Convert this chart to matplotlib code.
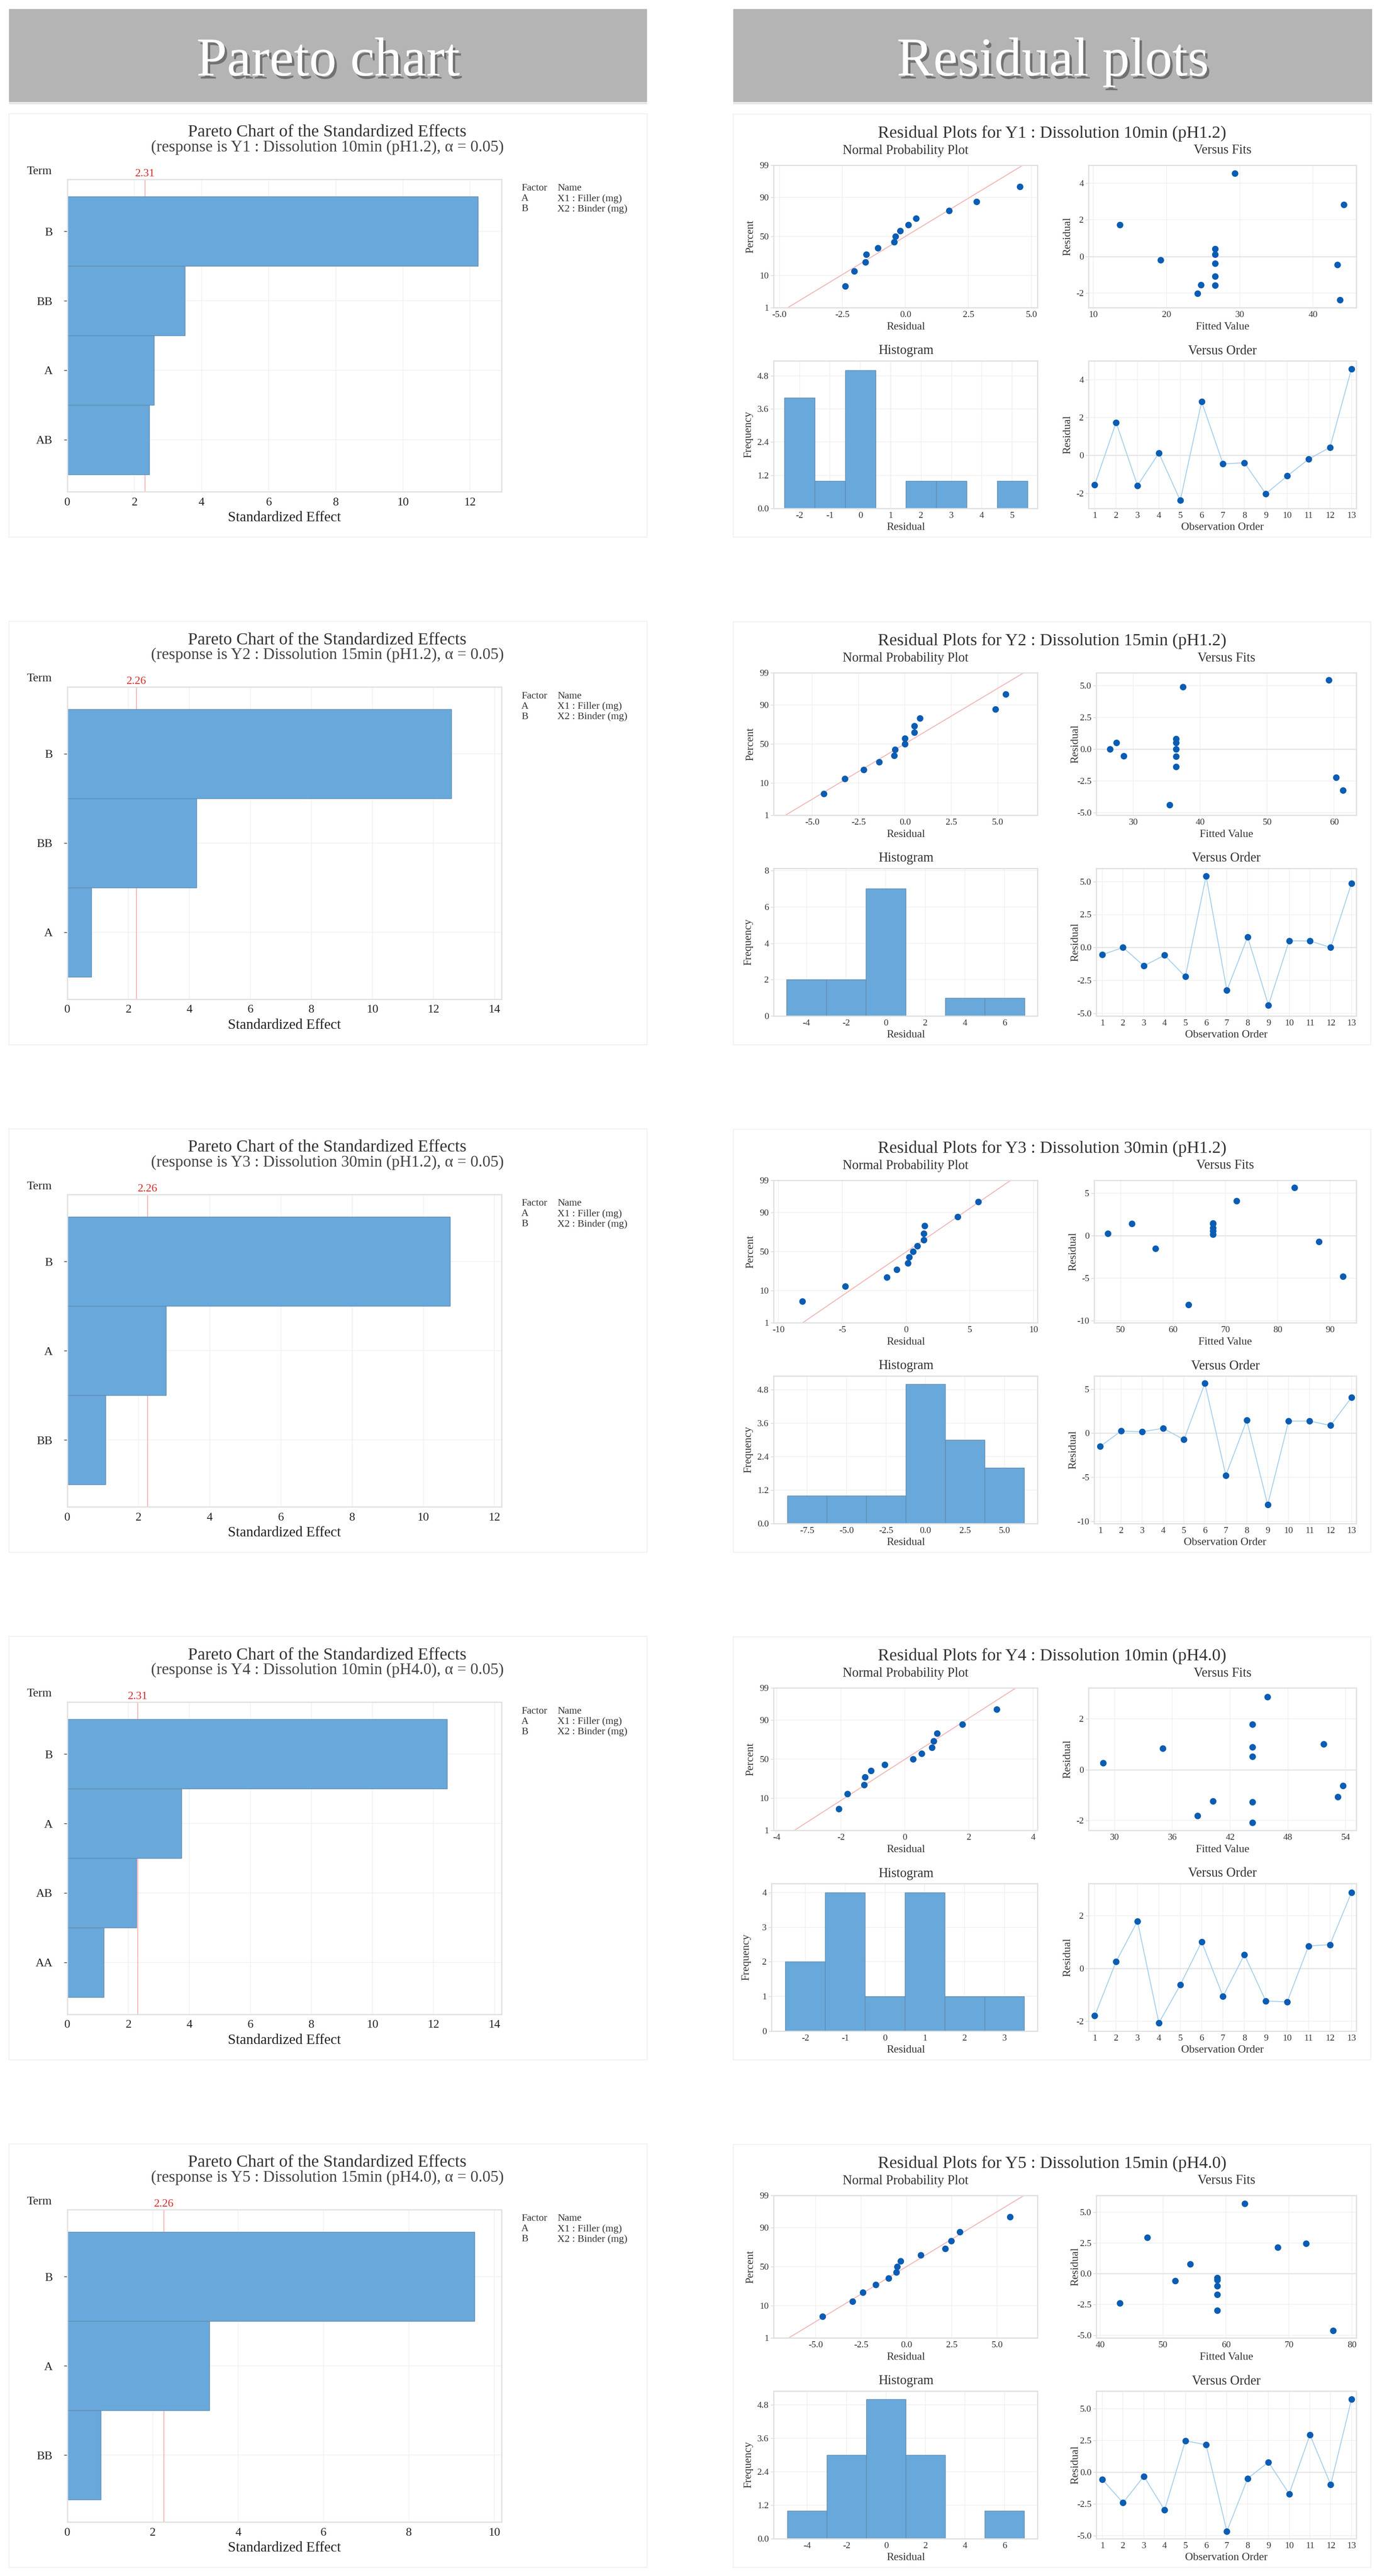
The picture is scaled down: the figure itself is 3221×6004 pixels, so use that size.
import matplotlib
matplotlib.use("Agg")
import matplotlib.pyplot as plt
import matplotlib.patheffects as pe
import matplotlib.transforms as mtransforms
from matplotlib.patches import Rectangle
from matplotlib.ticker import FixedLocator, FormatStrFormatter
from statistics import NormalDist
import numpy as np

# ---------------------------------------------------------------- data
response_names = ["Y1 : Dissolution 10min (pH1.2)",
                  "Y2 : Dissolution 15min (pH1.2)",
                  "Y3 : Dissolution 30min (pH1.2)",
                  "Y4 : Dissolution 10min (pH4.0)",
                  "Y5 : Dissolution 15min (pH4.0)"]

pareto_terms_y1 = ["B", "BB", "A", "AB"]
pareto_effects_y1 = [12.24, 3.50, 2.58, 2.44]
pareto_terms_y2 = ["B", "BB", "A"]
pareto_effects_y2 = [12.59, 4.23, 0.79]
pareto_terms_y3 = ["B", "A", "BB"]
pareto_effects_y3 = [10.75, 2.77, 1.07]
pareto_terms_y4 = ["B", "A", "AB", "AA"]
pareto_effects_y4 = [12.44, 3.74, 2.27, 1.20]
pareto_terms_y5 = ["B", "A", "BB"]
pareto_effects_y5 = [9.54, 3.33, 0.78]
critical_effects = [2.31, 2.26, 2.26, 2.31, 2.26]

factor_codes = ["A", "B"]
factor_names = ["X1 : Filler (mg)", "X2 : Binder (mg)"]

observation_order = [1, 2, 3, 4, 5, 6, 7, 8, 9, 10, 11, 12, 13]
residuals_y1 = [-1.55, 1.74, -1.59, 0.12, -2.38, 2.83, -0.45, -0.39, -2.03, -1.09, -0.20, 0.42, 4.55]
fits_y1 = [24.7, 13.6, 26.6, 26.6, 43.7, 44.2, 43.3, 26.6, 24.2, 26.6, 19.2, 26.6, 29.3]
residuals_y2 = [-0.55, 0.00, -1.40, -0.59, -2.22, 5.42, -3.26, 0.80, -4.38, 0.51, 0.49, 0.00, 4.87]
fits_y2 = [28.6, 26.5, 36.4, 36.4, 60.3, 59.2, 61.3, 36.4, 35.4, 36.4, 27.5, 36.4, 37.4]
residuals_y3 = [-1.50, 0.25, 0.16, 0.56, -0.72, 5.66, -4.78, 1.47, -8.13, 1.38, 1.38, 0.88, 4.06]
fits_y3 = [56.7, 47.6, 67.6, 67.6, 87.8, 83.2, 92.4, 67.6, 63.0, 67.6, 52.2, 67.6, 72.1]
residuals_y4 = [-1.80, 0.26, 1.79, -2.07, -0.63, 1.01, -1.06, 0.52, -1.24, -1.27, 0.85, 0.90, 2.87]
fits_y4 = [38.6, 28.8, 44.3, 44.3, 53.7, 51.7, 53.2, 44.3, 40.2, 44.3, 35.0, 44.3, 45.9]
residuals_y5 = [-0.57, -2.40, -0.32, -2.97, 2.47, 2.15, -4.64, -0.50, 0.79, -1.70, 2.94, -0.98, 5.72]
fits_y5 = [51.9, 43.1, 58.6, 58.6, 72.7, 68.2, 77.0, 58.6, 54.3, 58.6, 47.5, 58.6, 63.0]

npp_percent_ticks = [1, 10, 50, 90, 99]

pareto_terms = [pareto_terms_y1, pareto_terms_y2, pareto_terms_y3, pareto_terms_y4, pareto_terms_y5]
pareto_effects = [pareto_effects_y1, pareto_effects_y2, pareto_effects_y3, pareto_effects_y4, pareto_effects_y5]
residuals = [residuals_y1, residuals_y2, residuals_y3, residuals_y4, residuals_y5]
fits = [fits_y1, fits_y2, fits_y3, fits_y4, fits_y5]

# ---------------------------------------------------------------- axis settings
pareto_xmax = [12.94, 14.23, 12.2, 14.23, 10.17]
npp_xlim = [(-5.23, 5.24), (-7.09, 7.14), (-10.38, 10.3), (-4.1, 4.14), (-7.33, 7.23)]
npp_xticks = [[-5, -2.5, 0, 2.5, 5], [-5, -2.5, 0, 2.5, 5], [-10, -5, 0, 5, 10],
              [-4, -2, 0, 2, 4], [-5, -2.5, 0, 2.5, 5]]
npp_xfmt = ['%.1f', '%.1f', '%d', '%d', '%.1f']
vf_xlim = [(9.34, 45.9), (24.47, 63.3), (44.96, 94.96), (27.3, 55.1), (39.37, 80.7)]
vf_xticks = [[10, 20, 30, 40], [30, 40, 50, 60], [50, 60, 70, 80, 90],
             [30, 36, 42, 48, 54], [40, 50, 60, 70, 80]]
res_ylim = [(-2.8, 4.99), (-5.2, 6.0), (-10.25, 6.5), (-2.38, 3.22), (-5.22, 6.37)]
res_yticks = [[-2, 0, 2, 4], [-5, -2.5, 0, 2.5, 5], [-10, -5, 0, 5], [-2, 0, 2],
              [-5, -2.5, 0, 2.5, 5]]
res_yfmt = ['%d', '%.1f', '%d', '%d', '%.1f']
hist_bins = [(-2.5, 5.5, 1.0), (-5.0, 7.0, 2.0), (-8.75, 6.25, 2.5), (-2.5, 3.5, 1.0), (-5.0, 7.0, 2.0)]
hist_xlim = [(-2.855, 5.83), (-5.66, 7.66), (-9.62, 7.09), (-2.85, 3.83), (-5.70, 7.67)]
hist_xticks = [[-2, -1, 0, 1, 2, 3, 4, 5], [-4, -2, 0, 2, 4, 6], [-7.5, -5, -2.5, 0, 2.5, 5],
               [-2, -1, 0, 1, 2, 3], [-4, -2, 0, 2, 4, 6]]
hist_xfmt = ['%d', '%d', '%.1f', '%d', '%d']
hist_ytop = [5.34, 8.12, 5.29, 4.26, 5.29]
hist_yticks = [[0, 1.2, 2.4, 3.6, 4.8], [0, 2, 4, 6, 8], [0, 1.2, 2.4, 3.6, 4.8],
               [0, 1, 2, 3, 4], [0, 1.2, 2.4, 3.6, 4.8]]
hist_yfmt = ['%.1f', '%d', '%.1f', '%d', '%.1f']
vo_xlim = (0.71, 13.23)
vf_left = [2537, 2555, 2550, 2537, 2555]
hist_left = [1803, 1803, 1803, 1798, 1803]

# ---------------------------------------------------------------- style
W, H, DPI = 3221, 6004, 100
ROW = 1183
plt.rcParams['font.family'] = ['Liberation Serif', 'DejaVu Serif']
plt.rcParams['axes.unicode_minus'] = False

BAR = '#68a8da'
BAR_EDGE = '#6189ac'
DOT = '#0a5db3'
LINE = '#a9d0ec'
REDLINE = '#f3b6b6'
GRID = '#f1f1f1'
SPINE = '#e0e0e0'
TXT = '#333333'

fig = plt.figure(figsize=(W / DPI, H / DPI), dpi=DPI)
fig.patch.set_facecolor('white')


def ax_at(x0, y0, x1, y1):
    return fig.add_axes([x0 / W, 1 - y1 / H, (x1 - x0) / W, (y1 - y0) / H])


def ftext(x, y, s, **kw):
    return fig.text(x / W, 1 - y / H, s, **kw)


def frect(x0, y0, x1, y1, **kw):
    fig.patches.append(Rectangle((x0 / W, 1 - y1 / H), (x1 - x0) / W, (y1 - y0) / H,
                                 transform=fig.transFigure, **kw))


def style_axes(ax, labelsize=15.5):
    for s in ax.spines.values():
        s.set_color(SPINE)
        s.set_linewidth(2)
    ax.grid(True, color=GRID, lw=1.3, zorder=0)
    ax.set_axisbelow(True)
    ax.tick_params(axis='both', labelsize=labelsize, colors=TXT, color='#cfcfcf', width=1)
    ax.tick_params(axis='x', length=0, pad=6)
    ax.tick_params(axis='y', length=5, pad=3)


# ---------------------------------------------------------------- headers
for x0, x1, label in [(21, 1508, "Pareto chart"), (1709, 3198, "Residual plots")]:
    frect(x0, 239, x1, 243, facecolor='#e4e4e4', edgecolor='none')
    frect(x0, 21, x1, 238, facecolor='#b4b4b4', edgecolor='none')
    ftext((x0 + x1) / 2, 176, label, ha='center', va='baseline', fontsize=92, color='white',
          path_effects=[pe.SimplePatchShadow(offset=(4, -5), shadow_rgbFace='#3a3a3a', alpha=0.55),
                        pe.Normal()])

nd = NormalDist()

for r in range(5):
    oy = r * ROW

    # ============================ Pareto chart
    frect(21, 265 + oy, 1508, 1252 + oy, facecolor='none', edgecolor='#f0f0f0', lw=1.5)
    ftext(763, 309 + oy, "Pareto Chart of the Standardized Effects", ha='center', va='center',
          fontsize=29, color=TXT)
    ftext(763, 344 + oy, "(response is " + response_names[r] + ", \u03b1 = 0.05)", ha='center',
          va='center', fontsize=27, color='#444444')
    ftext(92, 399 + oy, "Term", ha='center', va='center', fontsize=20, color='#222222')

    ax = ax_at(157, 418 + oy, 1169, 1146 + oy)
    terms = pareto_terms[r]
    eff = pareto_effects[r]
    pos = np.arange(len(terms))
    ax.barh(pos, eff, height=1.0, color=BAR, edgecolor=BAR_EDGE, linewidth=1.0, zorder=2)
    ax.axvline(critical_effects[r], color=REDLINE, lw=1.6, zorder=1)
    ax.set_ylim(len(terms) - 1 + 0.75, -0.75)
    ax.set_xlim(0, pareto_xmax[r])
    ax.set_yticks(pos)
    ax.set_yticklabels(terms)
    ax.set_xticks(np.arange(0, pareto_xmax[r], 2))
    style_axes(ax, labelsize=20)
    ax.tick_params(axis='y', length=6, pad=19, colors='#222222')
    ax.tick_params(axis='x', pad=9, colors='#222222')
    trans = mtransforms.blended_transform_factory(ax.transData, ax.transAxes)
    ax.text(critical_effects[r], 1.003, "%.2f" % critical_effects[r], transform=trans,
            ha='center', va='bottom', fontsize=19, color='#d8282a')
    ftext(663, 1207 + oy, "Standardized Effect", ha='center', va='center', fontsize=24,
          color='#222222')
    # factor legend
    ftext(1215, 439 + oy, "Factor", ha='left', va='center', fontsize=17, color=TXT)
    ftext(1299, 439 + oy, "Name", ha='left', va='center', fontsize=17, color=TXT)
    for i, (c, nm) in enumerate(zip(factor_codes, factor_names)):
        ftext(1215, 463 + oy + 24 * i, c, ha='left', va='center', fontsize=17, color=TXT)
        ftext(1299, 463 + oy + 24 * i, nm, ha='left', va='center', fontsize=17, color=TXT)

    # ============================ Residual plots
    res = np.array(residuals[r])
    fit = np.array(fits[r])
    n = len(res)
    frect(1709, 266 + oy, 3195, 1252 + oy, facecolor='none', edgecolor='#f0f0f0', lw=1.5)
    ftext(2452, 311 + oy, "Residual Plots for " + response_names[r], ha='center', va='center',
          fontsize=29, color=TXT)

    # --- normal probability plot
    ax = ax_at(1803, 385 + oy, 2418, 717 + oy)
    srt = np.sort(res)
    zpts = [nd.inv_cdf((i + 1 - 0.3) / (n + 0.4)) for i in range(n)]
    zlo, zhi = nd.inv_cdf(0.01), nd.inv_cdf(0.99)
    mu, sd = res.mean(), res.std(ddof=1)
    ax.plot([mu + sd * zlo, mu + sd * zhi], [zlo, zhi], color=REDLINE, lw=1.6, zorder=2)
    ax.plot(srt, zpts, 'o', ms=10, color=DOT, zorder=3)
    ax.set_ylim(zlo, zhi)
    ax.set_yticks([nd.inv_cdf(p / 100) for p in npp_percent_ticks])
    ax.set_yticklabels([str(p) for p in npp_percent_ticks])
    ax.set_xlim(*npp_xlim[r])
    ax.xaxis.set_major_locator(FixedLocator(npp_xticks[r]))
    ax.xaxis.set_major_formatter(FormatStrFormatter(npp_xfmt[r]))
    style_axes(ax)
    ftext(2111, 351 + oy, "Normal Probability Plot", ha='center', va='center', fontsize=22, color=TXT)
    ftext(2111, 762 + oy, "Residual", ha='center', va='center', fontsize=18.5, color=TXT)
    ftext(1749, 551 + oy, "Percent", ha='center', va='center', rotation=90, fontsize=18.5, color=TXT)

    # --- versus fits
    xl = vf_left[r]
    ax = ax_at(xl, 385 + oy, 3161, 717 + oy)
    ax.axhline(0, color='#e4e4e4', lw=1.8, zorder=1)
    ax.plot(fit, res, 'o', ms=10, color=DOT, zorder=3)
    ax.set_xlim(*vf_xlim[r])
    ax.set_ylim(*res_ylim[r])
    ax.xaxis.set_major_locator(FixedLocator(vf_xticks[r]))
    ax.yaxis.set_major_locator(FixedLocator(res_yticks[r]))
    ax.yaxis.set_major_formatter(FormatStrFormatter(res_yfmt[r]))
    style_axes(ax)
    cx = (xl + 3161) / 2
    ftext(cx, 351 + oy, "Versus Fits", ha='center', va='center', fontsize=22, color=TXT)
    ftext(cx, 762 + oy, "Fitted Value", ha='center', va='center', fontsize=18.5, color=TXT)
    ftext(xl - 49, 551 + oy, "Residual", ha='center', va='center', rotation=90, fontsize=18.5, color=TXT)

    # --- histogram
    hl = hist_left[r]
    ax = ax_at(hl, 841 + oy, 2418, 1185 + oy)
    b0, b1, bw = hist_bins[r]
    edges = np.arange(b0, b1 + bw / 2, bw)
    ax.hist(res, bins=edges, color=BAR, edgecolor=BAR_EDGE, linewidth=1.0, zorder=2)
    ax.set_xlim(*hist_xlim[r])
    ax.set_ylim(0, hist_ytop[r])
    ax.xaxis.set_major_locator(FixedLocator(hist_xticks[r]))
    ax.xaxis.set_major_formatter(FormatStrFormatter(hist_xfmt[r]))
    ax.yaxis.set_major_locator(FixedLocator(hist_yticks[r]))
    ax.yaxis.set_major_formatter(FormatStrFormatter(hist_yfmt[r]))
    style_axes(ax)
    ftext(2111, 818 + oy, "Histogram", ha='center', va='center', fontsize=22, color=TXT)
    ftext(2111, 1229 + oy, "Residual", ha='center', va='center', fontsize=18.5, color=TXT)
    ftext(hl - 59, 1013 + oy, "Frequency", ha='center', va='center', rotation=90, fontsize=18.5, color=TXT)

    # --- versus order
    ax = ax_at(xl, 841 + oy, 3161, 1185 + oy)
    ax.axhline(0, color='#e4e4e4', lw=1.8, zorder=1)
    ax.plot(observation_order, res, '-', color=LINE, lw=1.6, zorder=2)
    ax.plot(observation_order, res, 'o', ms=10, color=DOT, zorder=3)
    ax.set_xlim(*vo_xlim)
    ax.set_ylim(*res_ylim[r])
    ax.xaxis.set_major_locator(FixedLocator(observation_order))
    ax.yaxis.set_major_locator(FixedLocator(res_yticks[r]))
    ax.yaxis.set_major_formatter(FormatStrFormatter(res_yfmt[r]))
    style_axes(ax)
    ftext(cx, 818 + oy, "Versus Order", ha='center', va='center', fontsize=22, color=TXT)
    ftext(cx, 1229 + oy, "Observation Order", ha='center', va='center', fontsize=18.5, color=TXT)
    ftext(xl - 49, 1013 + oy, "Residual", ha='center', va='center', rotation=90, fontsize=18.5, color=TXT)

fig.savefig("out.png", dpi=DPI, facecolor='white')
